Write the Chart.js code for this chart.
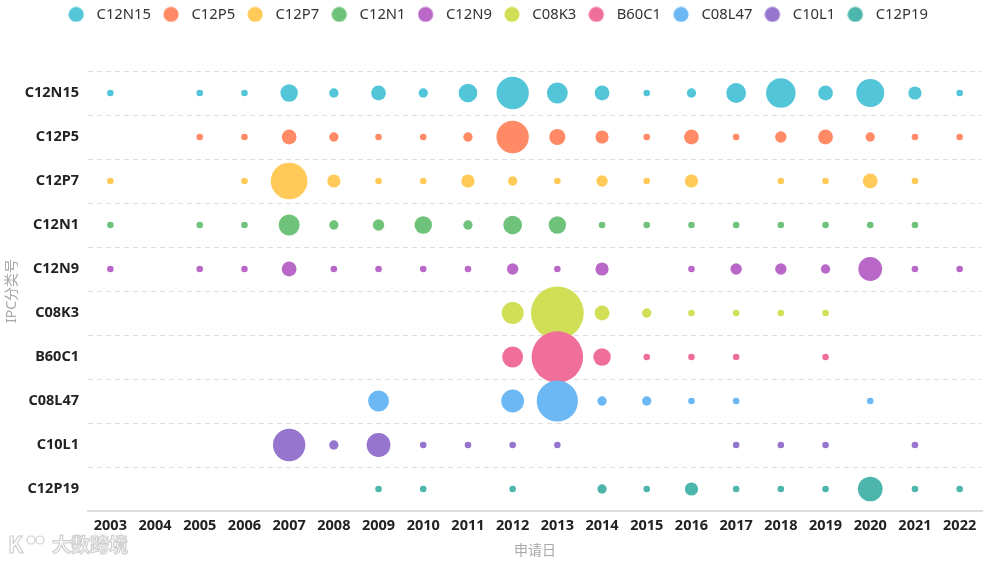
<!DOCTYPE html>
<html>
<head>
<meta charset="utf-8">
<script src="https://cdn.jsdelivr.net/npm/chart.js@4/dist/chart.umd.min.js"></script>
<style>
html,body{margin:0;padding:0;background:#ffffff;}
#wrap{width:989px;height:563px;position:relative;}
</style>
</head>
<body>
<div id="wrap"><canvas id="c"></canvas></div>
<script>
// ---- data ----
const years = ['2003','2004','2005','2006','2007','2008','2009','2010','2011','2012','2013','2014','2015','2016','2017','2018','2019','2020','2021','2022'];
const codes = ['C12N15','C12P5','C12P7','C12N1','C12N9','C08K3','B60C1','C08L47','C10L1','C12P19'];

const C12N15 = [1,null,1,1,7,2,5,2,8,24,10,5,1,2,9,20,5,18,4,1];
const C12P5  = [null,null,1,1,5,2,1,1,2,24,6,4,1,5,1,3,5,2,1,1];
const C12P7  = [1,null,null,1,31,4,1,1,4,2,1,3,1,4,null,1,1,5,1,null];
const C12N1  = [1,null,1,1,10,2,3,7,2,8,7,1,1,1,1,1,1,1,1,null];
const C12N9  = [1,null,1,1,5,1,1,1,1,3,1,4,null,1,3,3,2,13,1,1];
const C08K3  = [null,null,null,null,null,null,null,null,null,11,64,5,2,1,1,1,1,null,null,null];
const B60C1  = [null,null,null,null,null,null,null,null,null,10,61,7,1,1,1,null,1,null,null,null];
const C08L47 = [null,null,null,null,null,null,10,null,null,12,39,2,2,1,1,null,null,1,null,null];
const C10L1  = [null,null,null,null,24,2,13,1,1,1,1,null,null,null,1,1,1,null,1,null];
const C12P19 = [null,null,null,null,null,null,1,1,null,1,null,2,1,4,1,1,1,14,1,1];

const seriesValues = [C12N15, C12P5, C12P7, C12N1, C12N9, C08K3, B60C1, C08L47, C10L1, C12P19];

// ---- styles ----
const colors = ['#52C5D8','#FF8A65','#FFCA58','#6EC27A','#BA68C8','#D0DF55','#F06E9A','#6CB8F4','#9575CD','#4DB6AC'];
const FONT = '"Noto Sans", "Noto Sans CJK SC", sans-serif';
const sizeOf = v => 3.3 * Math.sqrt(v);

function makeDot(color){
  const cv = document.createElement('canvas');
  cv.width = 21; cv.height = 16;
  const g = cv.getContext('2d');
  g.fillStyle = color;
  g.beginPath(); g.arc(8, 8, 7.6, 0, Math.PI*2); g.fill();
  return cv;
}
const legendDots = colors.map(makeDot);

const datasets = codes.map((code, i) => ({
  label: code,
  data: seriesValues[i].map((v, j) => v == null ? null : ({x: years[j], y: code, r: sizeOf(v), v})).filter(p => p),
  backgroundColor: colors[i],
  borderColor: colors[i],
  borderWidth: 0,
  hoverBorderWidth: 0,
  order: -i
}));

const legendHeight = {
  id: 'legendHeight',
  beforeInit(chart){
    const orig = chart.legend.fit;
    chart.legend.fit = function(){ orig.call(this); this.height = 76; };
  },
  afterLayout(chart){
    chart.legend.left += 7;
    chart.legend.right += 7;
  }
};

const watermark = {
  id: 'watermark',
  afterDraw(chart){
    const ctx = chart.ctx;
    ctx.save();
    ctx.lineWidth = 1.2;
    ctx.strokeStyle = '#cfcfcf';
    ctx.fillStyle = '#ffffff';
    ctx.font = 'bold 22px "Noto Sans CJK SC", sans-serif';
    ctx.textBaseline = 'middle';
    ctx.strokeText('K', 8, 545);
    ctx.beginPath(); ctx.arc(31, 540, 4, 0, Math.PI*2); ctx.stroke();
    ctx.beginPath(); ctx.arc(40, 540, 4, 0, Math.PI*2); ctx.stroke();
    ctx.font = 'bold 19px "Noto Sans CJK SC", sans-serif';
    ctx.fillText('大数跨境', 52, 545);
    ctx.strokeText('大数跨境', 52, 545);
    ctx.restore();
  }
};

new Chart(document.getElementById('c'), {
  type: 'bubble',
  data: { datasets },
  plugins: [legendHeight, watermark],
  options: {
    responsive: true,
    maintainAspectRatio: false,
    animation: false,
    layout: { autoPadding: false, padding: { top: -5, right: 7, left: 0, bottom: 0 } },
    plugins: {
      legend: {
        position: 'top',
        labels: {
          usePointStyle: true,
          pointStyleWidth: 21,
          padding: 12,
          color: '#333',
          font: { family: FONT, size: 14.8 },
          sort: (a, b) => a.datasetIndex - b.datasetIndex,
          generateLabels(chart){
            const items = Chart.defaults.plugins.legend.labels.generateLabels(chart);
            items.forEach(it => { it.pointStyle = legendDots[it.datasetIndex]; });
            return items;
          }
        }
      },
      tooltip: { enabled: false }
    },
    scales: {
      x: {
        type: 'category',
        labels: years,
        offset: true,
        grid: { display: false, drawTicks: false },
        border: { display: true, color: '#dcdcdc', width: 2 },
        ticks: { color: '#222', font: { family: FONT, size: 14.5, weight: 'bold' }, padding: 6, autoSkip: false, maxRotation: 0 },
        title: { display: true, text: '申请日', color: '#a8a8a8', font: { family: FONT, size: 14 }, padding: { top: 2, bottom: 4 } },
        afterFit(s){ s.height = 52; }
      },
      y: {
        type: 'category',
        labels: codes,
        offset: true,
        grid: { display: true, offset: true, color: '#dedede', lineWidth: 1, drawTicks: false },
        border: { display: false, dash: [5, 4] },
        ticks: { color: '#222', font: { family: FONT, size: 14.5, weight: 'bold' }, padding: 9, autoSkip: false },
        title: { display: true, text: 'IPC分类号', color: '#a8a8a8', font: { family: FONT, size: 14 }, padding: { top: 4, bottom: 4 } },
        afterFit(s){ s.width = 88; }
      }
    }
  }
});
</script>
</body>
</html>
